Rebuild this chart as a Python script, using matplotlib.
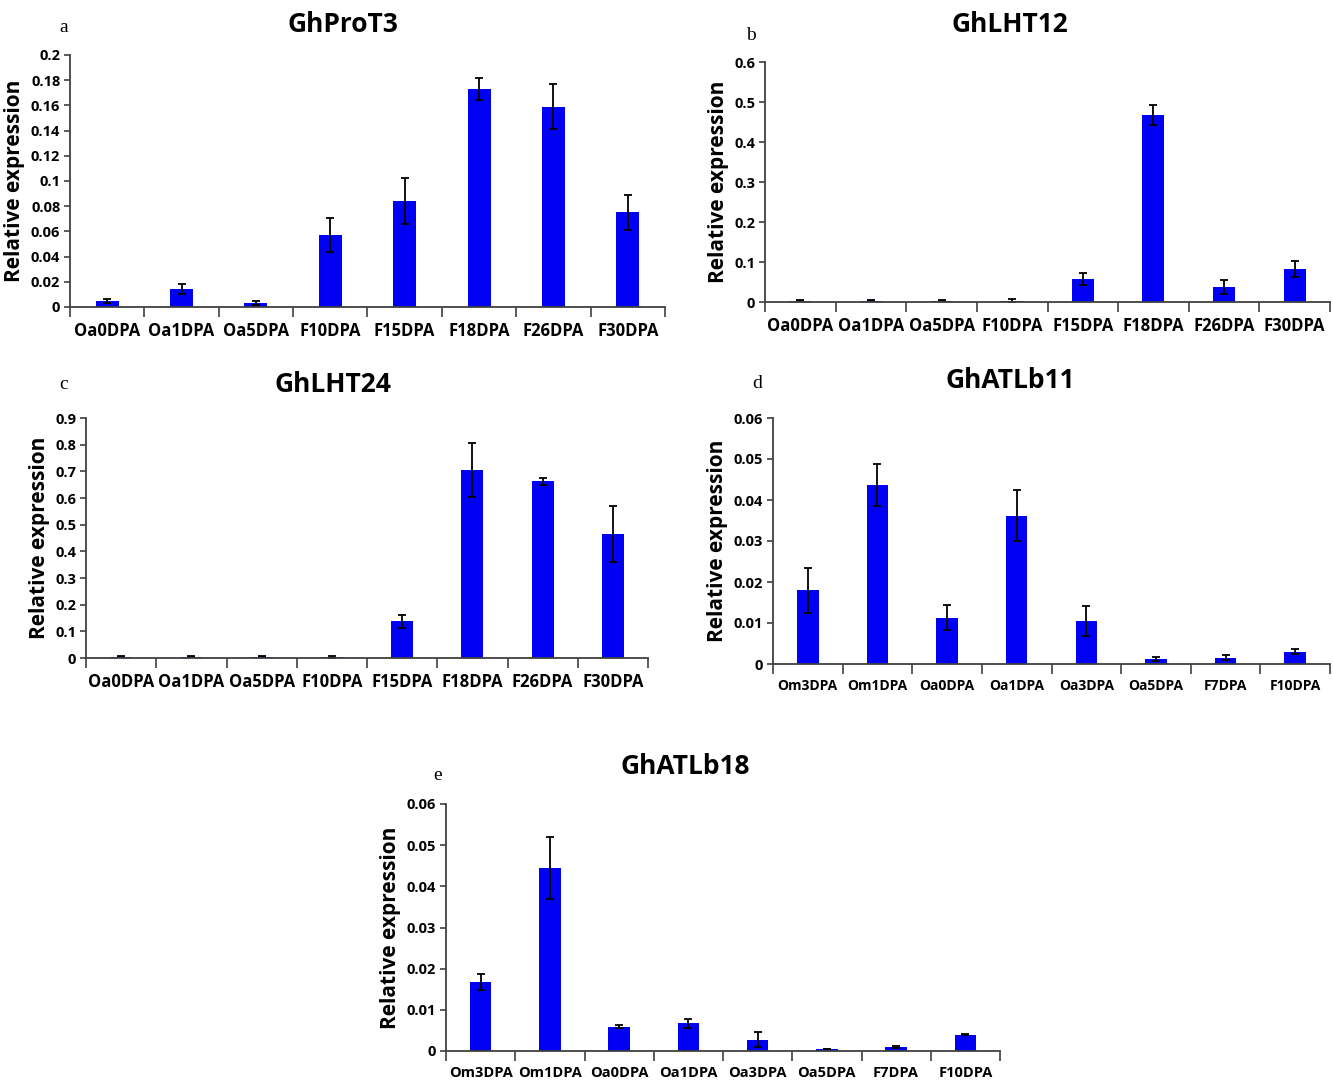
import numpy as np
from matplotlib import pyplot as plt

plt.rcParams["font.family"] = ["Open Sans", "DejaVu Sans"]

W, H = 1333, 1080

# 数据
stages_a = ['Oa0DPA', 'Oa1DPA', 'Oa5DPA', 'F10DPA', 'F15DPA', 'F18DPA', 'F26DPA', 'F30DPA']
stages_d = ['Om3DPA', 'Om1DPA', 'Oa0DPA', 'Oa1DPA', 'Oa3DPA', 'Oa5DPA', 'F7DPA', 'F10DPA']

proT3 = [0.005, 0.014, 0.003, 0.057, 0.084, 0.173, 0.159, 0.075]
proT3_err = [0.0015, 0.004, 0.0015, 0.0135, 0.018, 0.009, 0.018, 0.014]

lht12 = [0.003, 0.003, 0.003, 0.003, 0.057, 0.468, 0.037, 0.082]
lht12_err = [0.001, 0.001, 0.001, 0.004, 0.015, 0.025, 0.018, 0.02]

lht24 = [0.005, 0.005, 0.005, 0.005, 0.138, 0.705, 0.662, 0.465]
lht24_err = [0.002, 0.002, 0.002, 0.004, 0.025, 0.1, 0.013, 0.105]

atlb11 = [0.018, 0.0437, 0.0113, 0.0362, 0.0105, 0.0012, 0.0015, 0.003]
atlb11_err = [0.0055, 0.0052, 0.003, 0.0062, 0.0037, 0.0004, 0.0006, 0.0006]

atlb18 = [0.0167, 0.0445, 0.0059, 0.0067, 0.0027, 0.0005, 0.0009, 0.004]
atlb18_err = [0.002, 0.0075, 0.0003, 0.001, 0.0018, 0.0001, 0.0002, 0.0002]


def px_box(left, top, right, bottom):
    return [left / W, 1 - bottom / H, (right - left) / W, (bottom - top) / H]


def panel(fig, box, labels, values, errors, yticks, ytick_labels, title, letter,
          title_xy, letter_xy, xfont=12):
    ax = fig.add_axes(px_box(*box))
    x = np.arange(len(labels))
    ax.bar(x, values, width=0.31, color='#0000f5', yerr=errors,
           error_kw=dict(ecolor='black', elinewidth=1.3, capsize=3, capthick=1.3))
    ax.set_xlim(-0.5, len(labels) - 0.5)
    ax.set_ylim(yticks[0], yticks[-1])
    ax.set_yticks(yticks)
    ax.set_yticklabels(ytick_labels, fontsize=10.5, fontweight='bold')
    ax.set_xticks(x)
    ax.set_xticklabels(labels, fontsize=xfont, fontweight='bold')
    ax.tick_params(axis='x', length=0, pad=11)
    ax.set_xticks(np.arange(len(labels) + 1) - 0.5, minor=True)
    ax.tick_params(axis='x', which='minor', length=7, width=1.2, color='#404040')
    ax.tick_params(axis='y', length=4, width=1.2, color='#404040', pad=3)
    for s in ['top', 'right']:
        ax.spines[s].set_visible(False)
    for s in ['left', 'bottom']:
        ax.spines[s].set_linewidth(1.3)
        ax.spines[s].set_color('#404040')
    ax.set_ylabel('Relative expression', fontsize=15, fontweight='bold', labelpad=4)
    fig.text(title_xy[0] / W, 1 - title_xy[1] / H, title, fontsize=19, fontweight='bold',
             ha='center', va='center')
    fig.text(letter_xy[0] / W, 1 - letter_xy[1] / H, letter, fontsize=14,
             family='Liberation Serif', ha='center', va='center')
    return ax


fig = plt.figure(figsize=(W / 100, H / 100), dpi=100)

panel(fig, (70, 55, 665, 307), stages_a, proT3, proT3_err,
      [0, 0.02, 0.04, 0.06, 0.08, 0.1, 0.12, 0.14, 0.16, 0.18, 0.2],
      ['0', '0.02', '0.04', '0.06', '0.08', '0.1', '0.12', '0.14', '0.16', '0.18', '0.2'],
      'GhProT3', 'a', (343, 24), (64, 28))

panel(fig, (765, 62, 1330, 302), stages_a, lht12, lht12_err,
      [0, 0.1, 0.2, 0.3, 0.4, 0.5, 0.6],
      ['0', '0.1', '0.2', '0.3', '0.4', '0.5', '0.6'],
      'GhLHT12', 'b', (1010, 24), (751, 35))

panel(fig, (86, 418, 648, 658), stages_a, lht24, lht24_err,
      [0, 0.1, 0.2, 0.3, 0.4, 0.5, 0.6, 0.7, 0.8, 0.9],
      ['0', '0.1', '0.2', '0.3', '0.4', '0.5', '0.6', '0.7', '0.8', '0.9'],
      'GhLHT24', 'c', (333, 385), (64, 385))

panel(fig, (773, 418, 1330, 664), stages_d, atlb11, atlb11_err,
      [0, 0.01, 0.02, 0.03, 0.04, 0.05, 0.06],
      ['0', '0.01', '0.02', '0.03', '0.04', '0.05', '0.06'],
      'GhATLb11', 'd', (1010, 380), (757, 383), xfont=10)

panel(fig, (446, 804, 1000, 1051), stages_d, atlb18, atlb18_err,
      [0, 0.01, 0.02, 0.03, 0.04, 0.05, 0.06],
      ['0', '0.01', '0.02', '0.03', '0.04', '0.05', '0.06'],
      'GhATLb18', 'e', (685, 767), (438, 775), xfont=10.5)

fig.savefig('out.png', dpi=100)
